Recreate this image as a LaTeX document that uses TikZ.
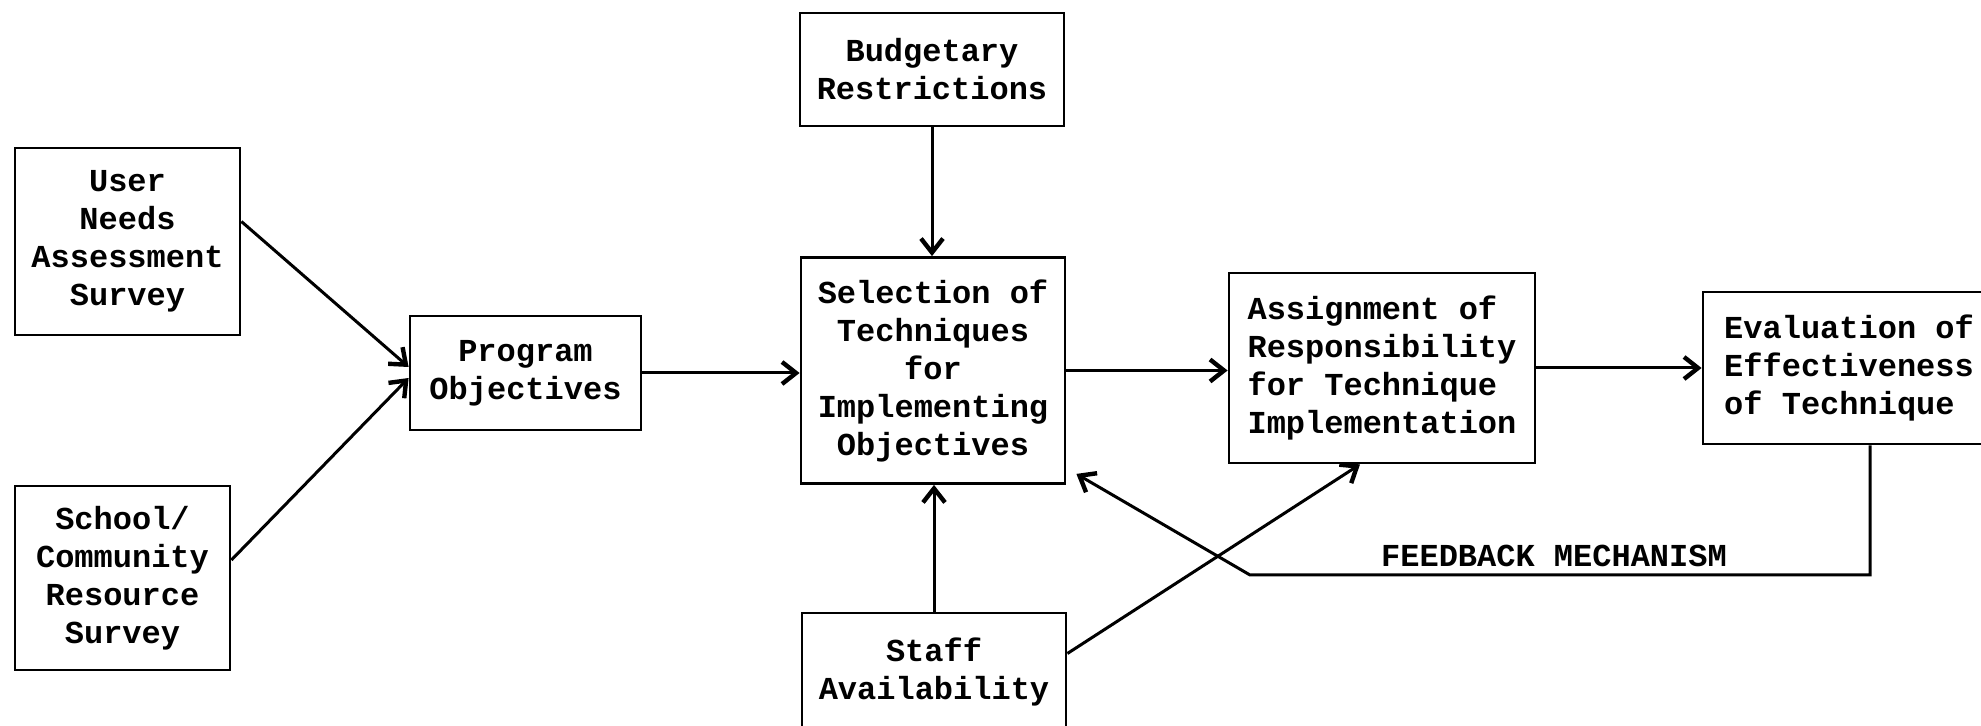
\documentclass[tikz,border=0pt]{standalone}
\usepackage{fontspec}
\setmainfont{Liberation Mono}
\usetikzlibrary{arrows.meta,calc}
\begin{document}
\begin{tikzpicture}[x=0.5pt,y=-0.5pt,
  box/.style={draw, line width=1.4pt, inner sep=0pt, font=\bfseries\fontsize{16}{19}\selectfont},
  arr/.style={line width=1.5pt, -{Straight Barb[length=7pt,width=11pt,line width=2.2pt]}},
  lbl/.style={font=\bfseries\fontsize{16}{19}\selectfont, inner sep=0pt}]
\useasboundingbox (0,0) rectangle (1981,726);
\fill[white] (0,0) rectangle (1981,726);

\node[box, minimum width=112.5pt, minimum height=93.5pt, align=center] (user) at (127.5,241.5) {User\\Needs\\Assessment\\Survey};
\node[box, minimum width=107.5pt, minimum height=92pt, align=center] (school) at (122.5,578) {School/\\Community\\Resource\\Survey};
\node[box, minimum width=115.5pt, minimum height=57pt, align=center] (prog) at (525.5,373) {Program\\Objectives};
\node[box, minimum width=132pt, minimum height=56.5pt, align=center] (budget) at (932,69.5) {Budgetary\\Restrictions};
\node[box, minimum width=132pt, minimum height=113pt, align=center] (sel) at (933,370.5) {Selection of\\Techniques\\for\\Implementing\\Objectives};
\node[box, minimum width=132pt, minimum height=58.5pt, align=center] (staff) at (934,671.5) {Staff\\Availability};
\node[box, minimum width=153pt, minimum height=95pt, align=left] (assign) at (1382,368) {Assignment of\\Responsibility\\for Technique\\Implementation};
\node[box, minimum width=146pt, minimum height=76pt, align=left] (eval) at (1849,368) {Evaluation of\\Effectiveness\\of Technique};

\draw[arr] ([yshift=10pt]user.east) -- ([yshift=3pt]prog.west);
\draw[arr] ([yshift=9pt]school.east) -- ([yshift=-2.5pt]prog.west);
\draw[arr] (prog.east) -- (prog.east -| sel.west);
\draw[arr] (budget.south) -- (budget.south |- sel.north);
\draw[arr] (staff.north) -- (staff.north |- sel.south);
\draw[arr] (sel.east) -- (sel.east -| assign.west);
\draw[arr] (assign.east) -- (assign.east -| eval.west);
\draw[arr] ([yshift=9pt]staff.east) -- ([xshift=-11pt]assign.south);

\coordinate (fbc) at (1250,575);
\draw[arr] ([xshift=10.5pt]eval.south) |- (fbc) -- ([xshift=5pt,yshift=5.5pt]sel.south east);
\node[lbl] (fbl) at (1554,556) {FEEDBACK MECHANISM};
\end{tikzpicture}
\end{document}
